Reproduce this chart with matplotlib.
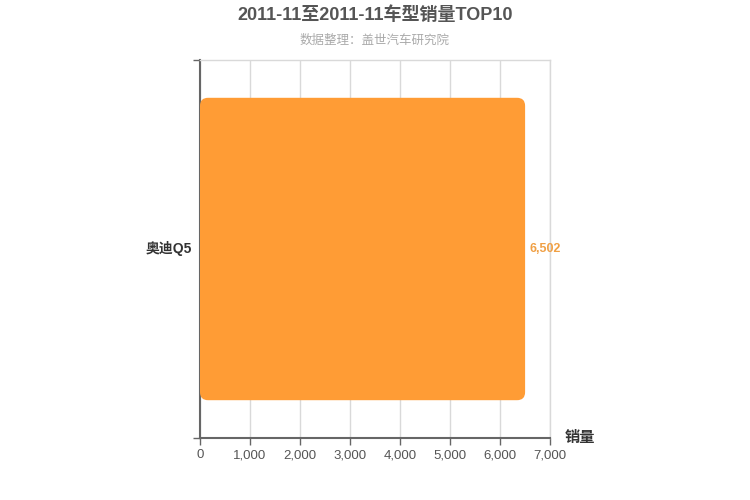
import matplotlib
matplotlib.use("Agg")
import matplotlib.pyplot as plt
from matplotlib.patches import FancyBboxPatch
from matplotlib.ticker import FuncFormatter

plt.rcParams['font.family'] = ['Liberation Sans', 'Noto Sans CJK SC', 'DejaVu Sans']

models = ["奥迪Q5"]
sales = [6502]
title = "2011-11至2011-11车型销量TOP10"
subtitle = "数据整理：盖世汽车研究院"

W, H = 750, 500
fig = plt.figure(figsize=(W / 100, H / 100), dpi=100)
ax = fig.add_axes([200 / W, 62 / H, 350 / W, 378 / H])

xmax = 7000
ax.set_xlim(0, xmax)
ax.set_ylim(0, len(models))

bar_color = "#FF9C35"
bar_h = 0.8
r_px = 8
rx = r_px * xmax / 350
ry = r_px * len(models) / 378
for i, (name, v) in enumerate(zip(models, sales)):
    y0 = i + (1 - bar_h) / 2
    patch = FancyBboxPatch((0, y0), v, bar_h,
                           boxstyle=f"round,pad=0,rounding_size={rx}",
                           mutation_aspect=ry / rx,
                           fc=bar_color, ec="none", zorder=3)
    ax.add_patch(patch)
    ax.text(v + 80, i + 0.5, f"{v:,}", color="#F0A045", fontsize=9,
            fontweight="bold", va="center", ha="left")

ax.set_yticks([0, len(models)])
ax.set_yticklabels([])
for i, name in enumerate(models):
    ax.text(-160, i + 0.5, name, ha="right", va="center", fontsize=10,
            color="#333333", fontweight="bold")

ax.set_xticks(range(0, xmax + 1, 1000))
ax.xaxis.set_major_formatter(FuncFormatter(lambda v, p: f"{int(v):,}"))
ax.tick_params(axis="x", colors="#666666", labelcolor="#555555", labelsize=9.5,
               length=5, width=1, pad=3)
ax.tick_params(axis="y", colors="#666666", length=5, width=1)
ax.grid(axis="x", color="#D9D9D9", lw=1, zorder=0)

for s in ["left", "bottom"]:
    ax.spines[s].set_color("#666666")
    ax.spines[s].set_linewidth(1.5)
for s in ["right", "top"]:
    ax.spines[s].set_color("#D9D9D9")
    ax.spines[s].set_linewidth(1)

fig.text(580 / W, 1 - 438 / H, "销量", fontsize=11, color="#333333",
         fontweight="bold", ha="center", va="center")
fig.text(0.5, 1 - 15 / H, title, fontsize=13, fontweight="bold",
         color="#555555", ha="center", va="center")
fig.text(0.5, 1 - 41 / H, subtitle, fontsize=9, color="#AAAAAA",
         ha="center", va="center")

fig.savefig("out.png", dpi=100, facecolor="white")
